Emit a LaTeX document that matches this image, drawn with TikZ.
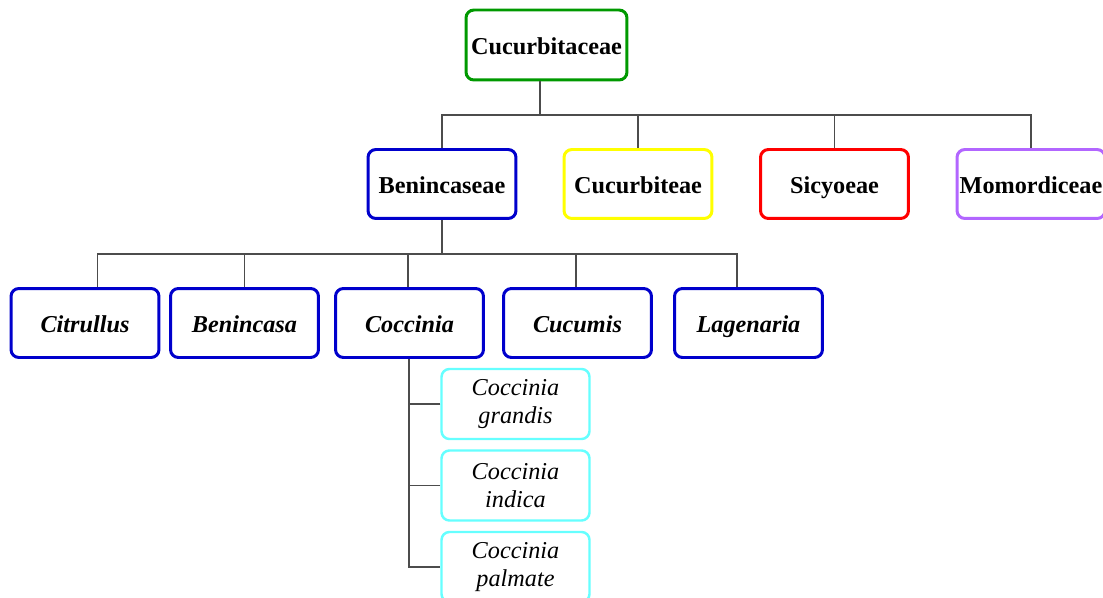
\documentclass[tikz,border=0pt]{standalone}
\usepackage{fontspec}
\setmainfont{Liberation Serif}

\definecolor{famgreen}{RGB}{0,153,0}
\definecolor{tribeblue}{RGB}{0,0,204}
\definecolor{tribeyellow}{RGB}{255,255,0}
\definecolor{tribered}{RGB}{255,0,0}
\definecolor{tribeviolet}{RGB}{178,102,255}
\definecolor{speccyan}{RGB}{102,255,255}

\begin{document}
\begin{tikzpicture}[x=0.02cm, y=-0.02cm,
	frame/.style = {draw, rounded corners=4.5pt, line width=1.7pt, inner xsep=0pt,
		minimum width=2.96cm, minimum height=1.38cm, align=center},
	box/.style = {frame, text height=2.6ex, text depth=0.2ex,
		font=\fontsize{13.8}{15.3}\selectfont\bfseries},
	genus/.style = {box, draw=tribeblue, font=\fontsize{13.8}{15.3}\selectfont\bfseries\itshape},
	species/.style = {frame, draw=speccyan, line width=1.4pt, minimum height=1.4cm,
		font=\fontsize{13.8}{15.6}\selectfont\itshape},
	wire/.style = {draw=black!70, line width=0.6pt}]

	\useasboundingbox (0, 0) rectangle (1103, 598);

	% Family and tribes

	\node [box, draw=famgreen, minimum width=3.22cm, minimum height=1.4cm] (fam) at (546.5, 45) {Cucurbitaceae};

	\node [box, draw=tribeblue] (ben) at (442, 184) {Benincaseae};
	\node [box, draw=tribeyellow] (cuc) at (638, 184) {Cucurbiteae};
	\node [box, draw=tribered] (sic) at (834.5, 184) {Sicyoeae};
	\node [box, draw=tribeviolet] (mom) at (1031, 184) {Momordiceae};

	% Genera

	\node [genus] (cit) at (85, 323) {Citrullus};
	\node [genus] (bca) at (244.5, 323) {Benincasa};
	\node [genus] (coc) at (409.5, 323) {Coccinia};
	\node [genus] (cum) at (577.5, 323) {Cucumis};
	\node [genus] (lag) at (748.5, 323) {Lagenaria};

	% Species

	\node [species] (gra) at (515.5, 404) {Coccinia\\grandis};
	\node [species] (ind) at (515.5, 485.5) {Coccinia\\indica};
	\node [species] (pal) at (515.5, 567) {Coccinia\\palmate};

	% Wires

	\coordinate (bus1) at (540, 115);
	\coordinate (bus2) at (ben.south |- 0, 254);

	\draw [wire] (bus1 |- fam.south) -- (bus1);
	\draw [wire] (ben.north) |- (bus1) -| (mom.north);
	\draw [wire] (cuc.north) -- (cuc.north |- bus1);
	\draw [wire] (sic.north) -- (sic.north |- bus1);

	\draw [wire] (ben.south) -- (bus2);
	\draw [wire] ([xshift=0.25cm]cit.north) |- (bus2) -| ([xshift=-0.23cm]lag.north);
	\draw [wire] (bca.north) -- (bca.north |- bus2);
	\draw [wire] ([xshift=-0.03cm]coc.north) -- ([xshift=-0.03cm]coc.north |- bus2);
	\draw [wire] ([xshift=-0.03cm]cum.north) -- ([xshift=-0.03cm]cum.north |- bus2);

	\draw [wire] ([xshift=-0.01cm]coc.south) |- (pal.west);
	\draw [wire] (gra.west) -- (gra.west -| coc.south);
	\draw [wire] (ind.west) -- (ind.west -| coc.south);

\end{tikzpicture}
\end{document}
